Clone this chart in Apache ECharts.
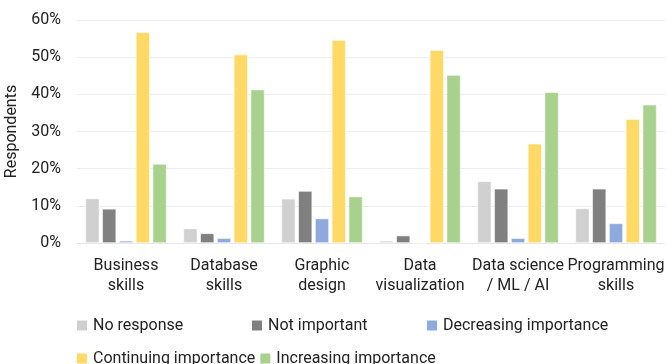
<!DOCTYPE html>
<html>
<head>
<meta charset="utf-8">
<script src="https://cdn.jsdelivr.net/npm/echarts@6/dist/echarts.min.js"></script>
<style>html,body{margin:0;padding:0;background:#fff;}#c{width:667px;height:364px;}</style>
</head>
<body>
<div id="c"></div>
<script>
const categories = ["Business\nskills", "Database\nskills", "Graphic\ndesign", "Data\nvisualization", "Data science\n/ ML / AI", "Programming\nskills"];
const seriesNames = ["No response", "Not important", "Decreasing importance", "Continuing importance", "Increasing importance"];
const noResponse = [12.0, 3.9, 11.9, 0.6, 16.6, 9.3];
const notImportant = [9.2, 2.6, 14.0, 2.0, 14.6, 14.6];
const decreasing = [0.6, 1.3, 6.6, 0, 1.3, 5.3];
const continuing = [56.7, 50.7, 54.6, 51.9, 26.7, 33.3];
const increasing = [21.3, 41.3, 12.5, 45.2, 40.6, 37.2];
const yTicks = [0, 10, 20, 30, 40, 50, 60];

const colors = ["#d0d0d0", "#808080", "#8eaadc", "#ffd966", "#a9d18e"];
const values = [noResponse, notImportant, decreasing, continuing, increasing];
const FONT = "Roboto, sans-serif";
const FS = 16;

const chart = echarts.init(document.getElementById('c'));
chart.setOption({
  animation: false,
  color: colors,
  textStyle: { fontFamily: FONT },
  grid: { left: 77, right: 2, top: 20, bottom: 121, containLabel: false, outerBoundsMode: 'none' },
  legend: [
    {
      left: 70, top: 309,
      itemWidth: 12, itemHeight: 12, itemGap: 10,
      icon: 'rect',
      data: seriesNames.slice(0, 3),
      textStyle: { fontFamily: FONT, fontSize: FS, color: '#222', width: 147, lineHeight: 23 }
    },
    {
      left: 70, top: 342,
      itemWidth: 12, itemHeight: 12, itemGap: 3,
      icon: 'rect',
      data: seriesNames.slice(3),
      textStyle: { fontFamily: FONT, fontSize: FS, color: '#222', lineHeight: 23 }
    }
  ],
  xAxis: {
    type: 'category',
    data: categories,
    axisTick: { show: false },
    axisLine: { lineStyle: { color: '#e6e6e6' } },
    axisLabel: { fontFamily: FONT, fontSize: FS, color: '#222', lineHeight: 20, margin: 13, interval: 0, hideOverlap: false }
  },
  yAxis: {
    type: 'value',
    min: yTicks[0], max: yTicks[yTicks.length - 1], interval: 10,
    name: 'Respondents', nameLocation: 'middle', nameGap: 51, nameRotate: 90,
    nameTextStyle: { fontFamily: FONT, fontSize: FS, color: '#222' },
    axisLabel: { fontFamily: FONT, fontSize: FS, color: '#222', margin: 16, formatter: '{value}%' },
    splitLine: { lineStyle: { color: '#eeeeee' } },
    axisLine: { show: false }, axisTick: { show: false }
  },
  series: seriesNames.map((n, i) => ({
    name: n, type: 'bar', data: values[i],
    barWidth: 14, barGap: '20%',
    itemStyle: { color: colors[i], borderColor: '#ffffff', borderWidth: 0.6 }
  }))
});
</script>
</body>
</html>
